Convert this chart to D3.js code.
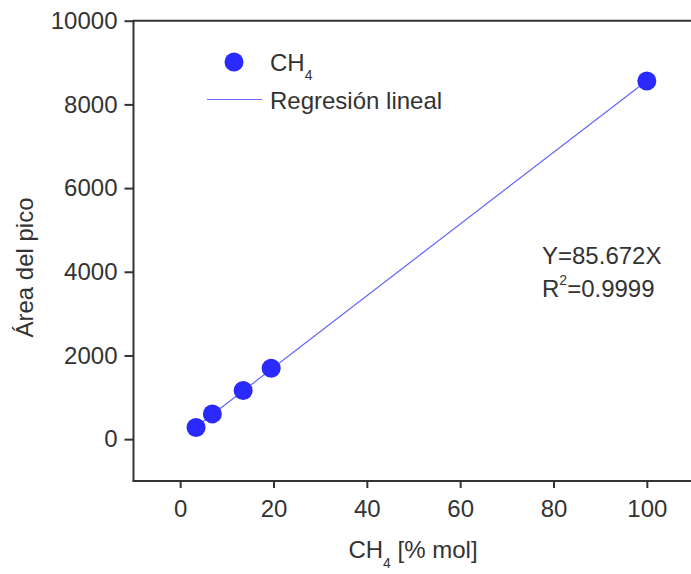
<!DOCTYPE html>
<html><head><meta charset="utf-8">
<script src="https://cdn.jsdelivr.net/npm/d3@7"></script>
<style>body{margin:0;background:#fff}text{font-family:"Liberation Sans",Arial,sans-serif;fill:#333}</style>
</head><body><svg id="c" width="691" height="574"></svg>
<script>
const xValues = [3.4, 6.9, 13.5, 19.5, 100];
const yValues = [277, 604, 1161, 1696, 8560];
const slope = 85.672;
const xTicks = [0, 20, 40, 60, 80, 100];
const yTicks = [0, 2000, 4000, 6000, 8000, 10000];

const svg = d3.select("#c");
const x = d3.scaleLinear().domain([-10, 110]).range([133.5, 693.5]);
const y = d3.scaleLinear().domain([-1000, 10000]).range([481, 20.7]);
const fs = 24;
const sub = 14;

const g = svg.append("g");
g.append("line").attr("x1", x(-10)).attr("x2", x(-10)).attr("y1", y(10000)).attr("y2", y(-1000)).attr("stroke", "#333").attr("stroke-width", 2);
g.append("line").attr("x1", x(-10)-1).attr("x2", 691).attr("y1", y(-1000)).attr("y2", y(-1000)).attr("stroke", "#333").attr("stroke-width", 2);
g.append("line").attr("x1", x(-10)-1).attr("x2", 691).attr("y1", y(10000)).attr("y2", y(10000)).attr("stroke", "#333").attr("stroke-width", 2);

const xAxis = svg.append("g").attr("transform", `translate(0,${y(-1000)})`)
  .call(d3.axisBottom(x).tickValues(xTicks).tickSize(7).tickPadding(12));
const yAxis = svg.append("g").attr("transform", `translate(${x(-10)},0)`)
  .call(d3.axisLeft(y).tickValues(yTicks).tickSize(9).tickPadding(7).tickFormat(d3.format("d")));
[xAxis, yAxis].forEach(a => {
  a.select(".domain").remove();
  a.selectAll(".tick line").attr("stroke", "#333").attr("stroke-width", 2);
  a.selectAll(".tick text").attr("font-size", fs).attr("fill", "#333").style("font-family", '"Liberation Sans",Arial,sans-serif');
});

svg.append("line")
  .attr("x1", x(xValues[0])).attr("y1", y(slope * xValues[0]))
  .attr("x2", x(xValues[xValues.length-1])).attr("y2", y(slope * xValues[xValues.length-1]))
  .attr("stroke", "#6363ff").attr("stroke-width", 1.2);

svg.selectAll("circle.pt").data(xValues).enter().append("circle").attr("class", "pt")
  .attr("cx", d => x(d)).attr("cy", (d, i) => y(yValues[i])).attr("r", 9.5).attr("fill", "#2a2aff");

svg.append("circle").attr("cx", 234).attr("cy", 62).attr("r", 9.5).attr("fill", "#2a2aff");
const t1 = svg.append("text").attr("x", 270).attr("y", 71).attr("font-size", fs);
t1.append("tspan").text("CH");
t1.append("tspan").text("4").attr("font-size", sub).attr("dy", 9);
svg.append("line").attr("x1", 207).attr("x2", 262).attr("y1", 99.5).attr("y2", 99.5).attr("stroke", "#6363ff").attr("stroke-width", 1.2);
svg.append("text").attr("x", 270).attr("y", 108.5).attr("font-size", fs).text("Regresión lineal");

svg.append("text").attr("x", 542).attr("y", 263.5).attr("font-size", fs).text("Y=85.672X");
const t2 = svg.append("text").attr("x", 542).attr("y", 297).attr("font-size", fs);
t2.append("tspan").text("R");
t2.append("tspan").text("2").attr("font-size", sub).attr("dy", -12);
t2.append("tspan").text("=0.9999").attr("dy", 12);

const xl = svg.append("text").attr("x", 413).attr("y", 558).attr("text-anchor", "middle").attr("font-size", fs);
xl.append("tspan").text("CH");
xl.append("tspan").text("4").attr("font-size", sub).attr("dy", 10);
xl.append("tspan").text(" [% mol]").attr("dy", -10);
svg.append("text").attr("transform", "translate(33,267.5) rotate(-90)").attr("text-anchor", "middle").attr("font-size", fs).text("Área del pico");
</script></body></html>
